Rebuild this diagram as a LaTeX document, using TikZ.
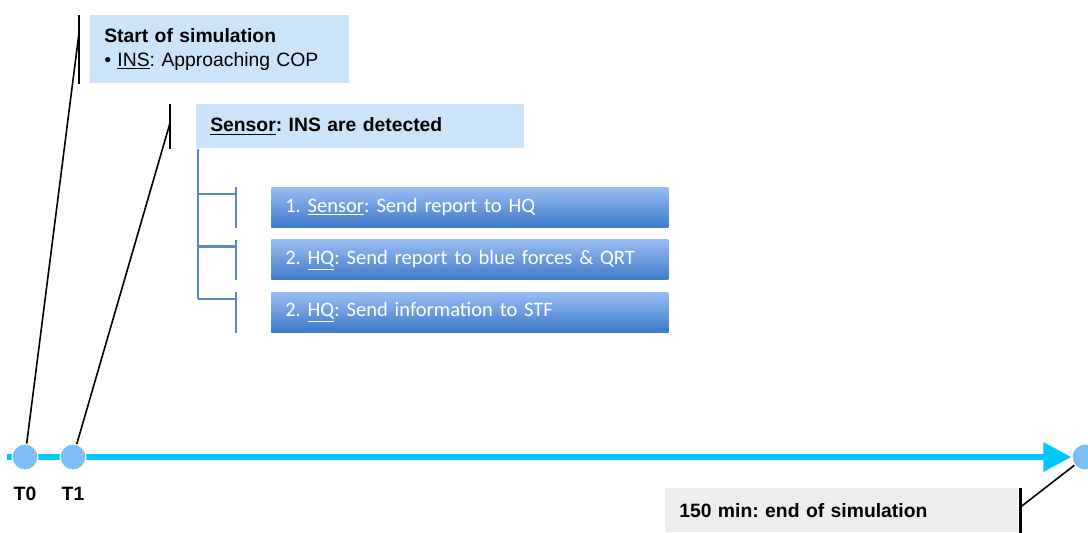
\documentclass[tikz,border=0pt]{standalone}
\usepackage{fontspec}
\setmainfont{Liberation Sans}
\newfontfamily\stepfont{Carlito}
\usetikzlibrary{positioning,arrows.meta,calc,backgrounds}
\frenchspacing
\definecolor{notebg}{HTML}{CCE4F9}
\definecolor{endbg}{HTML}{EDEDED}
\definecolor{linec}{HTML}{00C8FF}
\definecolor{treec}{HTML}{5B88C4}
\definecolor{steptop}{HTML}{98BDF3}
\definecolor{stepbot}{HTML}{3D79C9}
\definecolor{marktop}{HTML}{7DBDF8}
\definecolor{markmid}{HTML}{D8EEFF}
\tikzset{
  note/.style={fill=#1, anchor=north west, align=left, inner xsep=10.5pt,
    font=\fontsize{14.5}{18}\selectfont},
  stepbox/.style={anchor=north west, top color=steptop, bottom color=stepbot,
    text=white, align=left, minimum height=30pt, text width=276.75pt,
    inner xsep=10.5pt, font=\stepfont\fontsize{15.4}{17}\selectfont},
  tmark/.style={circle, minimum size=19.5pt, inner sep=0pt, draw=white, thick,
    top color=marktop, middle color=markmid, bottom color=marktop},
  tlabel/.style={inner sep=0pt, font=\fontsize{14.5}{16}\selectfont\bfseries},
  bar/.style={black, line width=1.8pt},
  leader/.style={black, line width=1.2pt},
  tree/.style={treec, line width=1.6pt},
  timeline/.style={linec, line width=4.5pt, -{Triangle[length=21pt,width=21pt]}}
}

\begin{document}
\begin{tikzpicture}[x=0.75pt,y=-0.75pt]
  \useasboundingbox (0,0) rectangle (1088,532);
  % time marks
  \node[tmark] (t0) at (25,457) {};
  \node[tmark] (t1) at (73,457) {};
  \node[tmark] (tend) at (1085,457) {};
  \node[tlabel, below=12pt of t0] (t0lab) {T0};
  \node[tlabel, below=12pt of t1] (t1lab) {T1};
  \coordinate (lstart) at ($(t0.west)+(-3pt,0)$);
  \begin{scope}[on background layer]
    \draw[timeline] (lstart) -- (tend);
  \end{scope}
  % notes
  \node[note=notebg, minimum height=51pt, text width=173.25pt] (start) at (90,15)
    {\textbf{Start of simulation}\\\textbullet{} \underline{INS}: Approaching COP};
  \node[note=notebg, minimum height=33pt, text width=225pt] (sensor) at (196,104)
    {\textbf{\underline{Sensor}: INS are detected}};
  \node[note=endbg, minimum height=33pt, text width=243.75pt] (finish) at (665,488)
    {\textbf{150 min: end of simulation}};
  % steps
  \node[stepbox] (step1) at (271,187) {1. \underline{Sensor}: Send report to HQ};
  \node[stepbox, below=9pt of step1] (step2) {2. \underline{HQ}: Send report to blue forces \& QRT};
  \node[stepbox, below=9pt of step2] (step3) {2. \underline{HQ}: Send information to STF};
  % bars and leaders
  \draw[bar] ($(start.north west)+(-8.25pt,0)$) -- ($(start.south west)+(-8.25pt,0)$);
  \draw[bar] ($(sensor.north west)+(-19.5pt,0)$) -- ($(sensor.south west)+(-19.5pt,0)$);
  \draw[bar] ($(finish.north east)+(1.5pt,0)$) -- ($(finish.south east)+(1.5pt,0)$);
  \coordinate (startpin) at ($(start.north west)+(-8.25pt,-13.5pt)$);
  \coordinate (sensorpin) at ($(sensor.north west)+(-19.5pt,-14.25pt)$);
  \coordinate (finishpin) at ($(finish.north east)+(1.5pt,-14.25pt)$);
  \draw[leader] (t0) -- (startpin);
  \draw[leader] (t1) -- (sensorpin);
  \draw[leader] (tend) -- (finishpin);
  % tree
  \coordinate (trunk) at ($(sensor.south west)+(1.5pt,0)$);
  \foreach \s in {step1,step2,step3} {
    \draw[tree] ($(\s.north west)+(-26.25pt,0)$) -- ($(\s.south west)+(-26.25pt,0)$);
    \draw[tree] (trunk |- {$(\s.north west)+(0,-5.25pt)$}) -- ($(\s.north west)+(-26.25pt,-5.25pt)$);
  }
  \draw[tree] (trunk) -- (trunk |- {$(step3.north west)+(0,-5.25pt)$});
\end{tikzpicture}
\end{document}
